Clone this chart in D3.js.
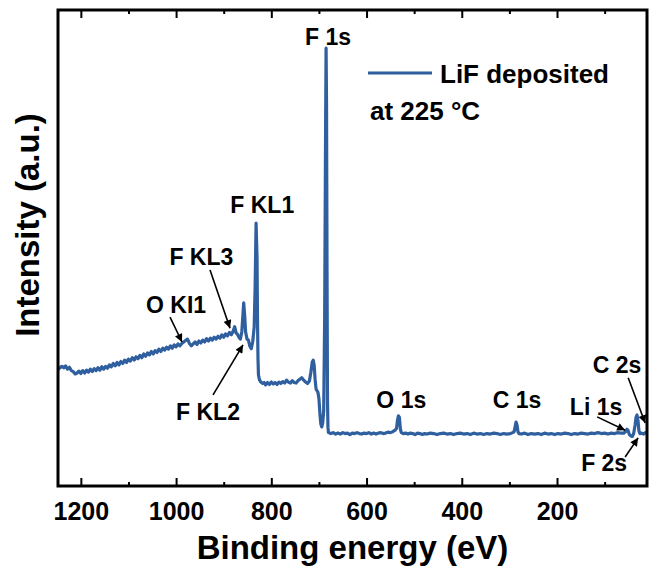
<!DOCTYPE html>
<html>
<head>
<meta charset="utf-8">
<script src="https://cdn.jsdelivr.net/npm/d3@7"></script>
<style>
  body { margin: 0; background: #fff; }
  text { font-family: "Liberation Sans", Arial, sans-serif; font-weight: bold; fill: #000; }
</style>
</head>
<body>
<div class="xps-plot"></div>
<script>
// binding energy (eV) and intensity (a.u.)
const energy = [
  1250,1245,1240,1236,1232,1228,1224,1220,1216,1212,1208,1204,1200,1196,1192,1188,1184,1180,1176,1172,
  1168,1164,1160,1156,1152,1148,1144,1140,1136,1132,1128,1124,1120,1116,1112,1108,1104,1100,1096,1092,
  1088,1084,1080,1076,1072,1068,1064,1060,1056,1052,1048,1044,1040,1036,1032,1028,1024,1020,1016,1012,
  1008,1004,1000,996,992,988,984,980,976,972,968,964,960,956,952,948,944,940,936,932,
  928,924,920,916,912,908,904,900,896,892,888,884,880,877,874,871,868,865,862,860,
  858,856,854,851,848,845,842,839,836,834,832,830,829,828,827,825,822,818,815,812,
  808,804,800,796,792,788,784,780,776,772,768,764,760,756,752,748,744,740,736,732,
  728,724,720,717,714,712,710,708,706,704,702,700,698,696,694,692,690,688,686,685,
  684,683,682,681,680,675,670,665,660,655,650,645,640,635,630,625,620,615,610,605,
  600,595,590,585,580,575,570,565,560,555,550,545,540,537,535,533,531,529,527,523,
  518,513,508,503,498,493,488,483,478,473,466,459,452,445,438,431,424,417,410,403,
  396,389,382,375,368,361,354,347,340,333,326,319,312,305,298,293,290,288,286,284,
  282,280,275,268,261,254,247,240,233,226,219,212,205,198,191,184,177,170,163,156,
  149,142,135,128,121,114,107,100,93,86,79,72,66,60,56,53,51,48,45,42,
  39,36,34,32,30,28,26,22,18,14,10
];
const intensity = [
  24.4,24.9,25.3,25.0,25.4,24.7,25.1,24.4,24.2,23.7,23.9,24.3,23.8,24.4,23.9,24.5,24.1,24.7,24.2,24.8,
  24.4,25.0,24.5,25.2,24.7,25.3,24.9,25.6,25.2,25.9,25.4,26.1,25.6,26.3,25.9,26.6,26.1,26.8,26.4,27.1,
  26.6,27.3,26.9,27.6,27.1,27.9,27.4,28.1,27.7,28.4,27.9,28.6,28.2,28.9,28.4,29.1,28.7,29.3,28.9,29.6,
  29.1,29.8,29.4,30.0,29.6,30.1,30.4,30.7,31.0,30.1,29.6,30.0,30.4,29.9,30.6,30.2,30.8,30.4,31.1,30.6,
  31.2,30.8,31.4,31.0,31.6,31.2,31.9,31.4,32.1,31.7,32.4,31.9,32.7,33.6,32.3,32.0,31.4,31.0,32.5,35.5,
  38.6,36.0,32.5,31.0,30.8,29.5,29.0,30.5,33.5,42.0,55.3,48.0,35.0,27.0,23.5,22.5,22.0,21.7,21.9,21.4,
  21.9,21.5,22.0,21.6,21.9,21.5,22.0,21.7,22.1,21.8,22.4,22.0,21.8,22.3,21.9,21.8,22.3,22.6,22.9,22.4,
  22.0,21.7,22.2,24.0,26.2,26.6,25.5,22.5,20.5,20.2,19.8,18.5,15.5,13.2,12.6,13.5,16.0,35.0,75.0,92.0,
  80.0,45.0,18.0,12.5,11.4,11.2,11.4,11.1,11.3,11.1,11.4,11.2,11.3,11.0,11.3,11.2,11.4,11.2,11.1,11.3,
  11.2,11.4,11.1,11.3,11.1,11.3,11.4,11.2,11.3,11.5,11.4,11.6,11.9,12.3,14.0,14.9,14.6,12.2,11.4,11.2,
  11.3,11.1,11.3,11.2,11.0,11.3,11.2,11.0,11.2,11.1,11.3,11.2,11.0,11.2,11.3,11.1,11.2,11.0,11.2,11.3,
  11.1,11.2,11.0,11.3,11.1,11.2,11.0,11.2,11.1,11.3,11.2,11.0,11.2,11.1,11.2,11.4,11.6,12.6,13.6,13.0,
  11.6,11.2,11.1,11.3,11.0,11.2,11.1,11.2,11.0,11.3,11.1,11.2,11.0,11.2,11.1,11.3,11.2,11.0,11.2,11.1,
  11.3,11.2,11.1,11.3,11.2,11.4,11.2,11.3,11.1,11.3,11.2,11.4,11.3,11.3,11.6,12.1,11.9,11.0,10.7,10.6,
  11.2,13.0,14.6,15.1,14.0,11.8,11.2,11.3,11.1,11.4,11.2
];

// x axis ticks
const majorTicks = [1200, 1000, 800, 600, 400, 200];
const minorTicks = [1100, 900, 700, 500, 300, 100];

// peak labels: text anchor and optional arrow (from -> to), all in eV / a.u.
const peakLabels = ['F 1s', 'F KL1', 'F KL3', 'O KI1', 'F KL2', 'O 1s', 'C 1s', 'Li 1s', 'C 2s', 'F 2s'];
const labelEnergy = [681, 819, 947, 1000, 933, 527, 284, 118, 74, 101];
const labelInt = [92.7, 57.4, 46.5, 36.5, 14.0, 16.6, 16.6, 15.1, 23.9, 3.4];
const arrows = [
  null, null,
  [928.7, 45.5, 886.7, 33.3],
  [1012.7, 35.6, 987.5, 30.4],
  [922.4, 19.3, 859.4, 29.8],
  null, null,
  [115.7, 14.7, 56.9, 11.9],
  [50.5, 22.9, 14.8, 13.4],
  [56.9, 6.3, 29.6, 10.3]
];

const width = 654;
const height = 569;
const margin = {top: 10, right: 7, bottom: 83, left: 58};
const lineColor = '#2f5f9e';

const svg = d3.select('.xps-plot')
    .append('svg')
    .attr('width', width)
    .attr('height', height);

const x = d3.scaleLinear()
    .domain([1248, 11])
    .range([margin.left, width - margin.right]);
const y = d3.scaleLinear()
    .domain([0, 100])
    .range([487, 10]);

const spectrum = energy.map((e, i) => ({e: e, v: intensity[i]}));

svg.append('clipPath').attr('id', 'plot-clip')
  .append('rect')
    .attr('x', margin.left)
    .attr('y', margin.top)
    .attr('width', width - margin.left - margin.right)
    .attr('height', height - margin.top - margin.bottom);

// spectrum line
svg.append('path')
    .datum(spectrum)
    .attr('clip-path', 'url(#plot-clip)')
    .attr('fill', 'none')
    .attr('stroke', lineColor)
    .attr('stroke-width', 3.2)
    .attr('stroke-linejoin', 'round')
    .attr('d', d3.line().x(d => x(d.e)).y(d => y(d.v)));

// axes: ticks point inward, on bottom and top
const bottomY = height - margin.bottom;
const xMajor = d3.axisBottom(x).tickValues(majorTicks).tickFormat(d3.format('d'))
    .tickSizeInner(-8).tickSizeOuter(0).tickPadding(16);
const xMinor = d3.axisBottom(x).tickValues(minorTicks).tickSizeInner(-4).tickSizeOuter(0).tickFormat('');
const topMajor = d3.axisTop(x).tickValues(majorTicks).tickSizeInner(-8).tickSizeOuter(0).tickFormat('');
const topMinor = d3.axisTop(x).tickValues(minorTicks).tickSizeInner(-4).tickSizeOuter(0).tickFormat('');

const gx = svg.append('g').attr('transform', `translate(0,${bottomY})`).call(xMajor);
svg.append('g').attr('transform', `translate(0,${bottomY})`).call(xMinor);
svg.append('g').attr('transform', `translate(0,${margin.top})`).call(topMajor);
svg.append('g').attr('transform', `translate(0,${margin.top})`).call(topMinor);
svg.selectAll('.domain').remove();
svg.selectAll('.tick line').attr('stroke', '#000').attr('stroke-width', 2);
gx.selectAll('text')
    .attr('font-size', 25)
    .attr('font-family', '"Liberation Sans", Arial, sans-serif')
    .attr('font-weight', 'bold')
    .attr('fill', '#000');

// frame
svg.append('rect')
    .attr('x', margin.left)
    .attr('y', margin.top)
    .attr('width', width - margin.left - margin.right)
    .attr('height', bottomY - margin.top)
    .attr('fill', 'none')
    .attr('stroke', '#000')
    .attr('stroke-width', 3);

// axis titles
svg.append('text')
    .attr('x', (margin.left + width - margin.right) / 2)
    .attr('y', 559)
    .attr('text-anchor', 'middle')
    .attr('font-size', 33)
    .text('Binding energy (eV)');
svg.append('text')
    .attr('transform', 'translate(39,225) rotate(-90)')
    .attr('text-anchor', 'middle')
    .attr('font-size', 33)
    .text('Intensity (a.u.)');

// legend
svg.append('line')
    .attr('x1', 368).attr('x2', 432)
    .attr('y1', 73).attr('y2', 73)
    .attr('stroke', lineColor)
    .attr('stroke-width', 3.2);
svg.append('text').attr('x', 440).attr('y', 83).attr('font-size', 26).text('LiF deposited');
svg.append('text').attr('x', 370).attr('y', 120).attr('font-size', 26).text('at 225 \u00B0C');

// arrowhead marker
svg.append('defs').append('marker')
    .attr('id', 'head')
    .attr('viewBox', '0 0 10 10')
    .attr('refX', 10).attr('refY', 5)
    .attr('markerUnits', 'userSpaceOnUse')
    .attr('markerWidth', 10).attr('markerHeight', 8)
    .attr('orient', 'auto')
  .append('path')
    .attr('d', 'M0,0L10,5L0,10z')
    .attr('fill', '#000');

// peak labels
svg.selectAll('text.peak')
    .data(peakLabels)
    .enter()
    .append('text')
    .attr('class', 'peak')
    .attr('x', (d, i) => x(labelEnergy[i]))
    .attr('y', (d, i) => y(labelInt[i]))
    .attr('text-anchor', 'middle')
    .attr('font-size', 23)
    .text(d => d);

svg.selectAll('line.arrow')
    .data(arrows.filter(a => a))
    .enter()
    .append('line')
    .attr('class', 'arrow')
    .attr('x1', d => x(d[0]))
    .attr('y1', d => y(d[1]))
    .attr('x2', d => x(d[2]))
    .attr('y2', d => y(d[3]))
    .attr('stroke', '#000')
    .attr('stroke-width', 1.6)
    .attr('marker-end', 'url(#head)');
</script>
</body>
</html>
